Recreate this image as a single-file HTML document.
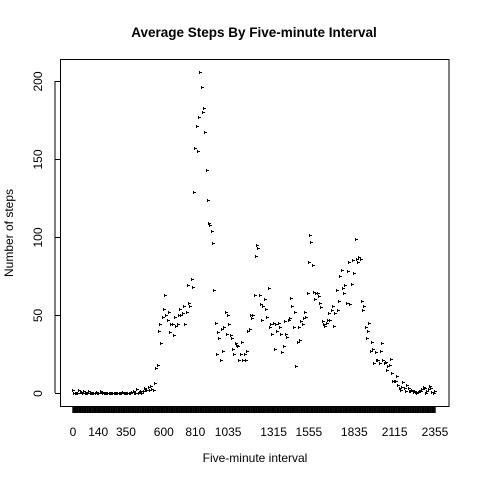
<!DOCTYPE html>
<html><head><meta charset="utf-8"><style>
html,body{margin:0;padding:0;background:#fff}
svg text{font-family:"Liberation Sans",Arial,sans-serif}
</style></head><body>
<svg id="chart" width="480" height="480" viewBox="0 0 480 480" xmlns="http://www.w3.org/2000/svg">
<rect width="480" height="480" fill="#fff"/>
<text x="254" y="37" text-anchor="middle" font-size="13.5" font-weight="bold">Average Steps By Five-minute Interval</text>
<rect x="60.5" y="59.5" width="388.5" height="347" fill="none" stroke="#000" stroke-width="1"/>
<text x="255" y="462" text-anchor="middle" font-size="12">Five-minute interval</text>
<text transform="translate(13,233) rotate(-90)" text-anchor="middle" font-size="12">Number of steps</text>
<g id="yaxis"></g>
<g id="xaxis"></g>
<g id="points"></g>
</svg>
<script>
const yTicks = [0, 50, 100, 150, 200];
const xLabels = ["0","140","350","600","810","1035","1315","1555","1835","2115","2355"];
const xLabelIdx = [0, 20, 42, 72, 97, 123, 159, 187, 223, 255, 287];
const steps = [
1.7,0.3,0.1,0.2,0.1,2.1,0.5,0.9,0,1.5,0.3,0.1,
0.3,1.1,0,0.2,0.3,0.1,0.1,0.5,0,0,1.1,0.5,
0,0.1,0.1,0,0,0,0,0,0,0,0.1,0,
0,0,0,0,0.4,0,0,0,0,0,0,0.9,
1.2,0,0.1,2.6,0,0.8,1.2,0,1.2,3,2.2,2,
3.7,2.2,4.4,2.4,2.1,6.1,16,18,40,44,32,49,
54,63,50,47,52,39,44,44,37,49,43,44,
50,54,50,51,56,44,52,69,58,56,73,68,
129,157,171,155,177,206,196,180,183,167,143,124,
109,108,104,96,66,45,25,39,35,21,41,27,
42,52,38,50,44,37,35,28,25,32,31,30,
21,25,33,21,25,21,27,40,41,50,48,50,
63,88,95,93,63,57,47,56,60,54,49,67,
42,44,38,45,28,44,40,45,42,38,26,30,
46,38,36,47,48,61,56,42,52,17,33,42,
34,46,44,48,52,49,64,84,101,97,82,65,
60,64,64,62,58,55,46,44,43,45,47,51,
47,53,56,43,51,66,53,59,75,79,67,64,
69,58,78,84,57,70,85,77,99,86,84,87,
86,59,53,56,42,35,40,45,27,33,28,19,
26,21,21,19,27,32,21,19,20,15,17,18,
22,13,8,8,8,11,5,3,2,4,7,3,
1,5,3,1,1,2,0.8,1,0.8,0,0.4,1,
1.4,2.6,3.9,3,0.3,1,2.6,4.7,3.3,0.6,0.2,1.1
];
const NS="http://www.w3.org/2000/svg";
const X0=73, X1=435, Y0=393, Y200=81;
function xScale(i){return X0+i*(X1-X0)/(steps.length-1);}
function yScale(v){return Y0+(Y200-Y0)*v/200;}
function mk(tag,attrs,parent){const e=document.createElementNS(NS,tag);for(const k in attrs)e.setAttribute(k,attrs[k]);parent.appendChild(e);return e;}
const ya=document.getElementById('yaxis');
let yl=mk('line',{x1:55,x2:55,y1:yScale(yTicks[0]),y2:yScale(yTicks[yTicks.length-1]),stroke:'#000'},ya);


yTicks.forEach(t=>{
  const y=Math.round(yScale(t))+0.5;
  const tk=mk('line',{x1:55,x2:60,y1:y,y2:y,stroke:'#000'},ya);
  
  
  const tx=mk('text',{transform:`translate(42,${y}) rotate(-90)`,'text-anchor':'middle','font-size':'12'},ya);
  tx.textContent=String(t);
  
  
});
const xa=document.getElementById('xaxis');
for(let i=0;i<steps.length;i++){
  const x=xScale(i);
  const tk=mk('line',{x1:x,x2:x,y1:407,y2:413,stroke:'#000','stroke-width':1.4},xa);
  
  
}
xLabels.forEach((l,k)=>{
  const tx=mk('text',{x:xScale(xLabelIdx[k]),y:436,'text-anchor':'middle','font-size':'12'},xa);
  tx.textContent=l;
  
  
});
const pg=document.getElementById('points');
steps.forEach((v,i)=>{
  const x=Math.round(xScale(i)), y=Math.round(yScale(v));
  const p=mk('path',{d:`M${x-1} ${y-1}h1v3h-1zM${x} ${y}h2v1h-2z`,fill:'#000'},pg);
  
  
});
</script>
</body></html>
